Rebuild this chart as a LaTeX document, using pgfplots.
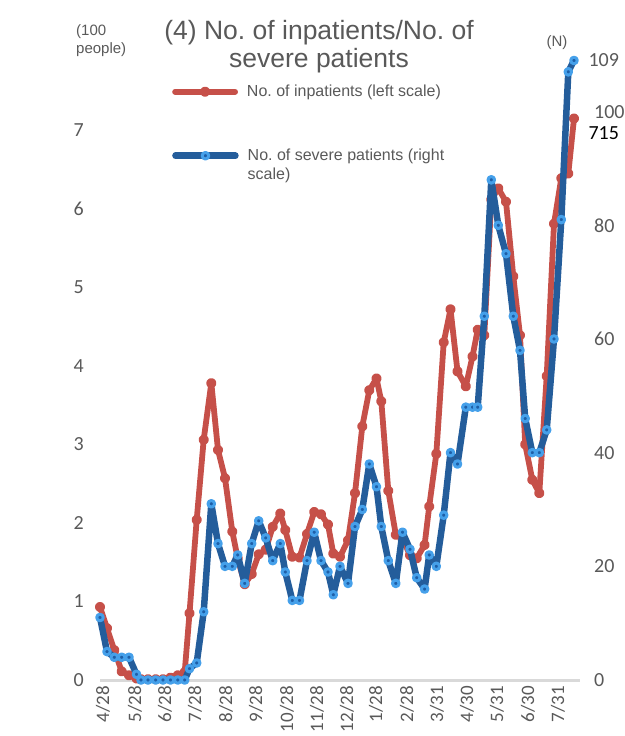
\documentclass[border=0pt]{standalone}
\usepackage{pgfplots}
\usepackage{pgfplotstable}
\pgfplotsset{compat=1.18}
\usepackage{fontspec}
\setmainfont{Liberation Sans}
\newfontfamily\carlito{Carlito}
\frenchspacing
\definecolor{redl}{HTML}{C65049}
\definecolor{redm}{HTML}{A33A35}
\definecolor{bluel}{HTML}{245D9B}
\definecolor{bluem}{HTML}{45A0EA}
\definecolor{bluec}{HTML}{1E5FA8}
\definecolor{txt}{HTML}{595959}
\definecolor{axisgray}{HTML}{D9D9D9}

% x = horizontal position (px) of each weekly point
\pgfplotstableread{
x y
100 0.93
107 0.66
114.3 0.38
121.7 0.11
129 0.06
136.5 0.02
141 0.01
148 0.01
155.7 0.01
163 0.01
170.5 0.03
177.8 0.06
184.7 0.10
189.5 0.85
196.7 2.04
203.7 3.06
211.3 3.78
218 2.93
225 2.57
232.3 1.89
237.7 1.55
244.7 1.22
251.7 1.35
258.7 1.60
265.7 1.66
272.7 1.95
280.3 2.12
285.3 1.91
292.3 1.57
299.5 1.56
307 1.86
314.2 2.14
321 2.11
328 1.98
333.3 1.61
340 1.57
348 1.78
355 2.38
362.3 3.23
369.3 3.69
376.5 3.84
381.3 3.55
388.3 2.41
395.8 1.85
402.5 1.80
410 1.59
416.7 1.55
424.6 1.72
429.2 2.21
436.3 2.88
443.7 4.30
450.5 4.72
457.5 3.93
465.8 3.74
472.5 4.12
477.7 4.46
484.3 4.39
491.3 6.12
498.3 6.26
506 6.09
513.3 5.14
520 4.39
525.2 3.00
532.3 2.55
539.3 2.38
546.7 3.87
554 5.81
561.3 6.39
568.3 6.45
574 7.15
}\redtab

\pgfplotstableread{
x y
100 11
107 5
114.3 4
121.7 4
129 4
136.5 1
141 0
148 0
155.7 0
163 0
170.5 0
177.8 0
184.7 0
189.5 2
196.7 3
203.7 12
211.3 31
218 24
225 20
232.3 20
237.7 22
244.7 17
251.7 24
258.7 28
265.7 25
272.7 21
280.3 24
285.3 19
292.3 14
299.5 14
307 21
314.2 26
321 21
328 19
333.3 15
340 20
348 17
355 27
362.3 30
369.3 38
376.5 34
381.3 27
388.3 21
395.8 17
402.5 26
410 23
416.7 18
424.6 16
429.2 22
436.3 20
443.7 29
450.5 40
457.5 38
465.8 48
472.5 48
477.7 48
484.3 64
491.3 88
498.3 80
506 75
513.3 64
520 58
525.2 46
532.3 40
539.3 40
546.7 44
554 60
561.3 81
568.3 107
574 109
}\bluetab

\pgfplotsset{
  common/.style={
    at={(100pt,56pt)}, anchor=south west, scale only axis,
    width=480pt, height=640pt,
    xmin=100, xmax=580, ymin=0, clip=false,
    axis line style={draw=none}, tick style={draw=none},
    /pgf/number format/assume math mode=true,
    legend image code/.code={\draw[mark repeat=2,mark phase=2] plot coordinates {(3pt,0pt)(33pt,0pt)(63pt,0pt)};\path (72pt,0pt);},
    legend style={draw=none, fill=none, inner sep=0pt, font=\fontsize{16}{19}\selectfont, text=txt,
      nodes={inner sep=0pt}},
    legend cell align=left,
  },
  redstyle/.style={draw=redl, line width=5.8pt, line join=round, line cap=round,
    mark=*, mark size=2.2pt, mark options={draw=none, fill=redm, solid}},
  bluestyle/.style={draw=bluel, line width=6.5pt, line join=round, line cap=round,
    mark=*, mark size=3.3pt, mark options={draw=bluem, fill=bluec, line width=3pt, solid}},
}

\begin{document}
\begin{tikzpicture}
\useasboundingbox (0,0) rectangle (624pt,736pt);
\begin{axis}[common,
  ymax=8.15,
  xtick={103,135,165,195,226,256,287,317,347,376,407,437,467,497,528,558},
  xticklabels={4/28,5/28,6/28,7/28,8/28,9/28,10/28,11/28,12/28,1/28,2/28,3/31,4/30,5/31,6/30,7/31},
  xticklabel style={rotate=90, anchor=east, inner sep=0pt, font=\carlito\fontsize{19}{19}\selectfont, text=txt},
  xticklabel shift=6pt,
  ytick={0,1,2,3,4,5,6,7},
  yticklabel style={anchor=east, inner sep=0pt, font=\carlito\fontsize{20}{20}\selectfont, text=txt},
  yticklabel shift=16pt,
  legend style={at={(0.15,0.9297)}, anchor=north west},
]
\draw[axisgray, line width=3pt] (axis cs:100,0) -- (axis cs:580,0);
\addplot[redstyle] table[x=x,y=y] {\redtab};
\addlegendentry{No. of inpatients (left scale)}
\node[anchor=west, text=black, font=\carlito\fontsize{20}{20}\selectfont] at (axis cs:574,7.15) [xshift=11pt, yshift=-15pt] {715};
\end{axis}
\begin{axis}[common,
  ymax=112.6,
  hide x axis,
  yticklabel pos=right,
  ytick={0,20,40,60,80,100},
  yticklabel style={anchor=west, inner sep=0pt, font=\carlito\fontsize{20}{20}\selectfont, text=txt},
  yticklabel shift=14pt,
  legend style={at={(0.15,0.8297)}, anchor=north west},
]
\addplot[bluestyle] table[x=x,y=y] {\bluetab};
\addlegendentry{\parbox[t]{205pt}{\raggedright No. of severe patients (right scale)}}
\node[anchor=west, text=txt, font=\carlito\fontsize{20}{20}\selectfont] at (axis cs:574,109) [xshift=11pt] {109};
\end{axis}
\node[align=center, text=txt, font=\fontsize{26.5}{28}\selectfont] at (319pt,689pt) {(4) No. of inpatients/No. of\\severe patients};
\node[anchor=north west, align=left, inner sep=0pt, text=txt, font=\fontsize{15}{18}\selectfont] at (76pt,712pt) {(100\\people)};
\node[text=txt, font=\fontsize{15}{15}\selectfont] at (557pt,693pt) {(N)};
\end{tikzpicture}
\end{document}
